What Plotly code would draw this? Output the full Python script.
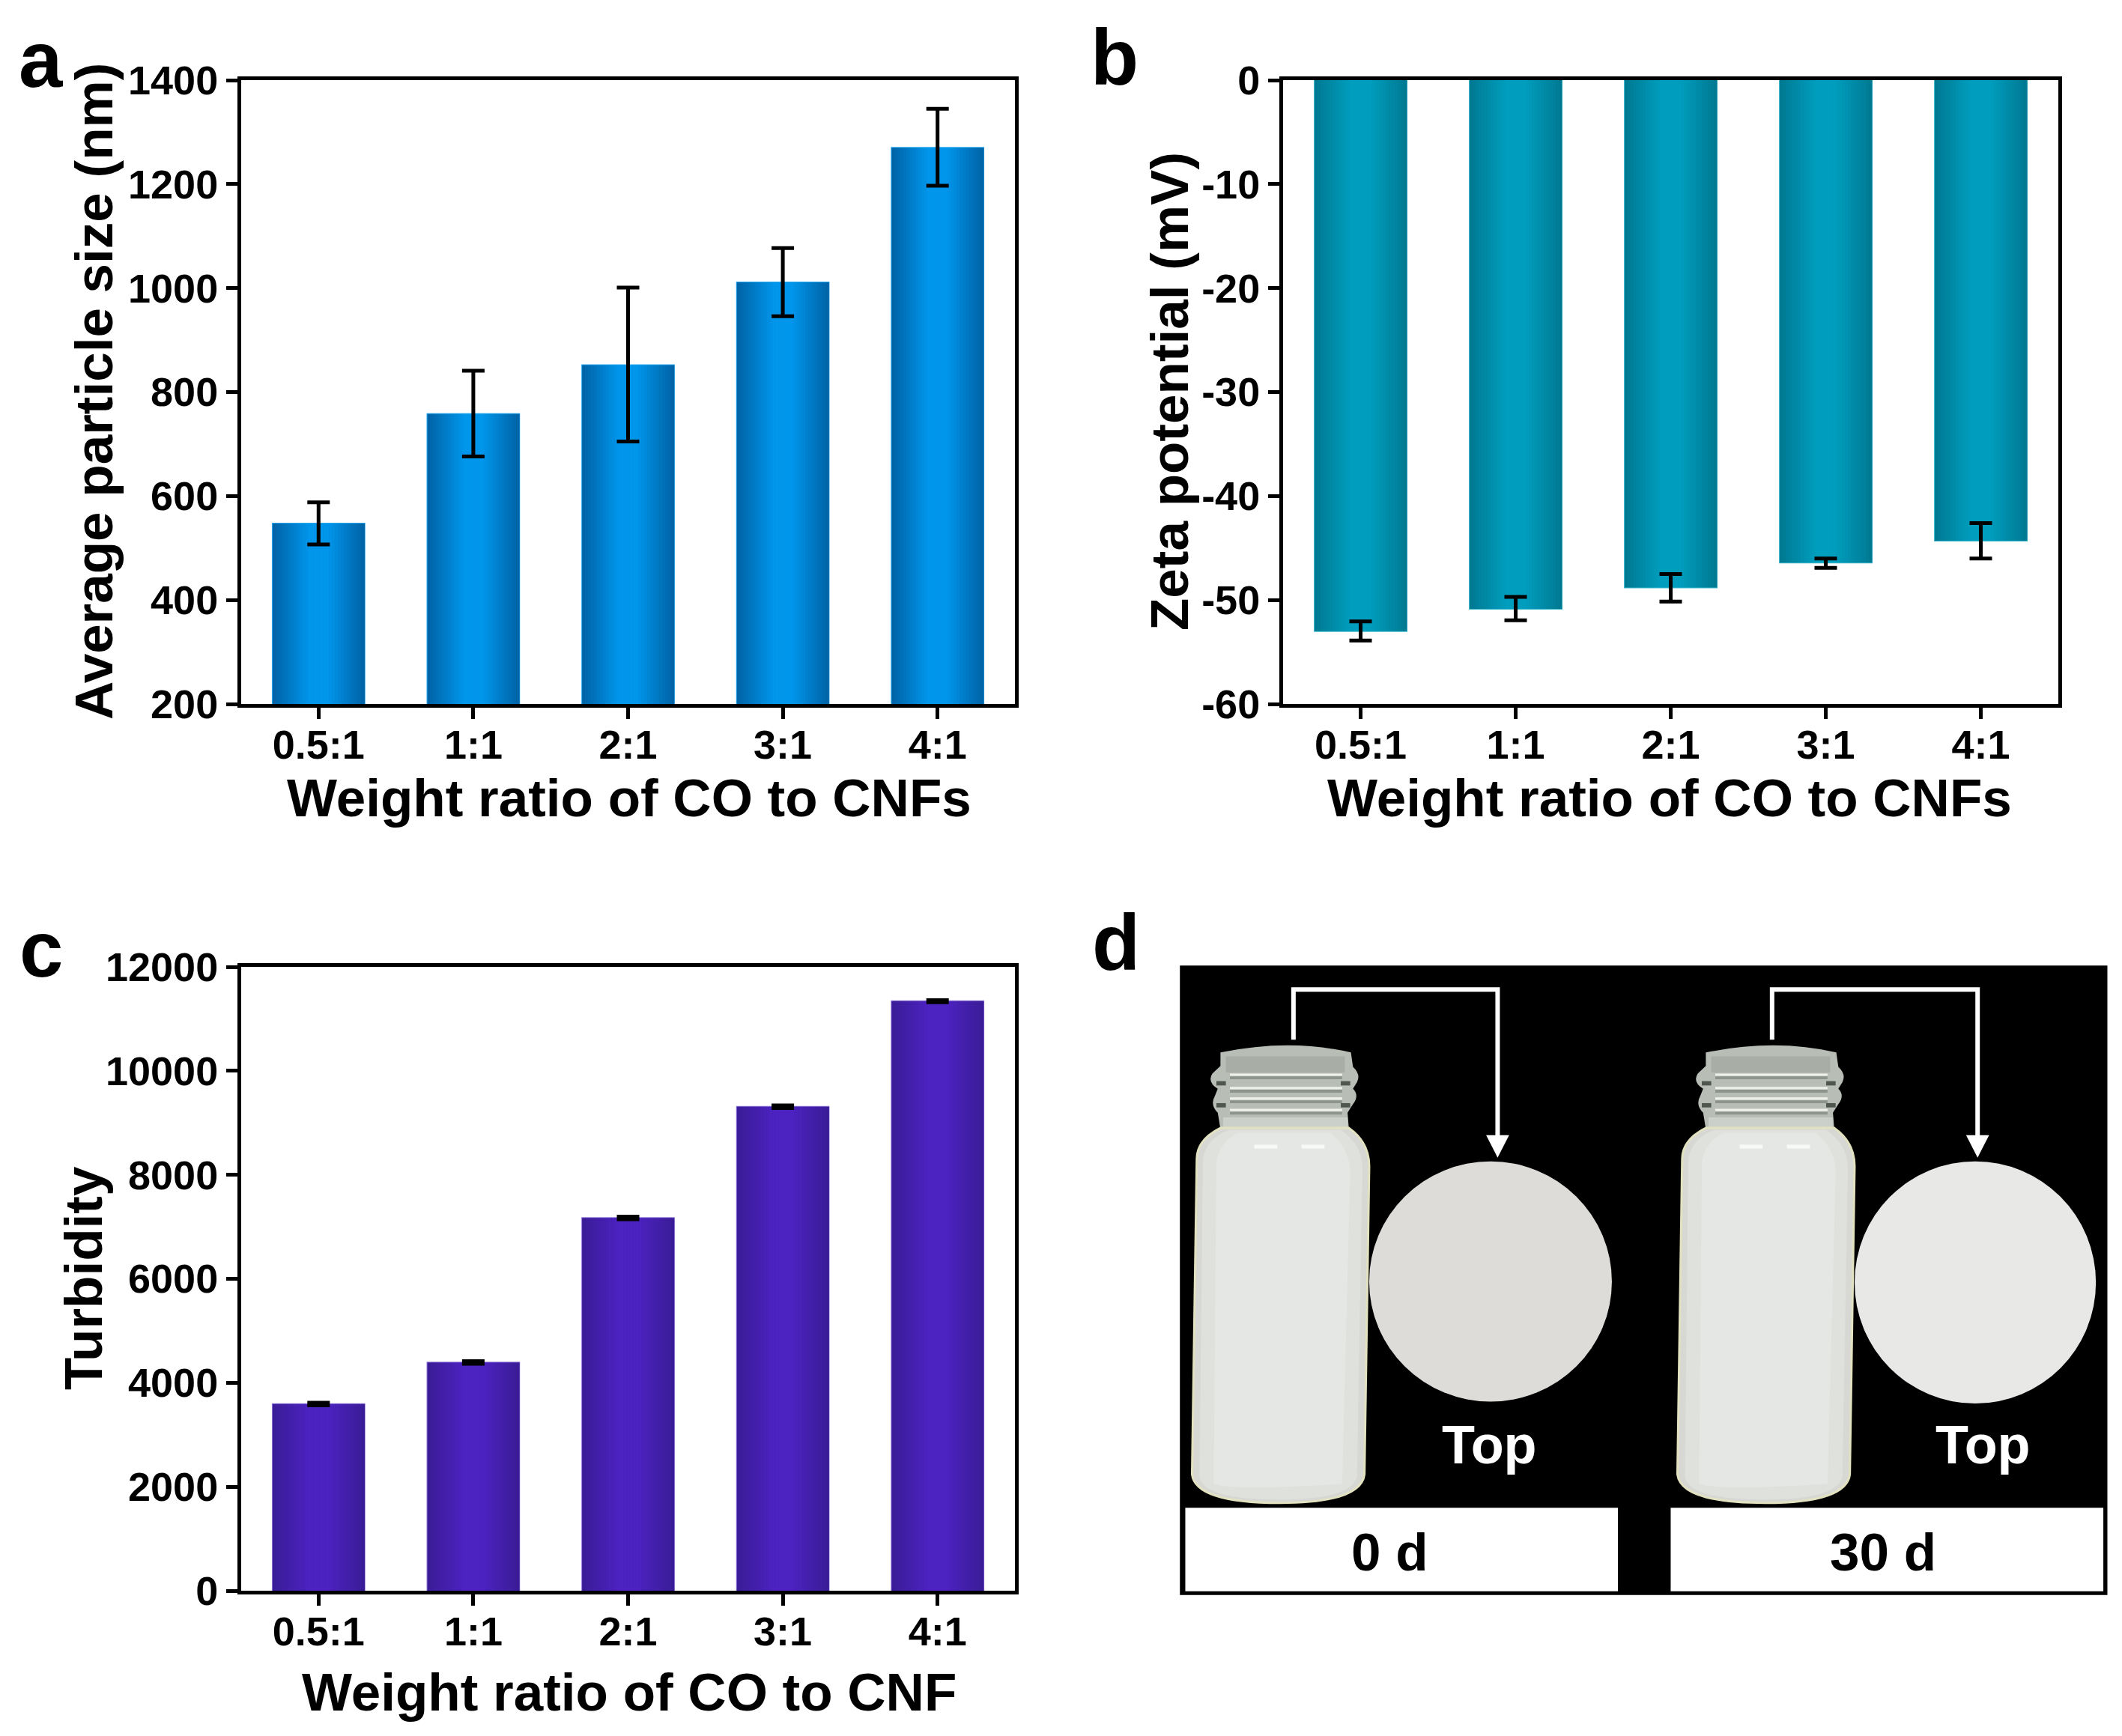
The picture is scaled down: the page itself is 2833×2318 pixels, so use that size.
"""Four panel figure: particle size, zeta potential, turbidity and storage photo sketch."""

import plotly.graph_objects as go

W, H = 2833, 2318
FONT = "Liberation Sans"

ratios = ["0.5:1", "1:1", "2:1", "3:1", "4:1"]

size_values = [547, 758, 852, 1011, 1270]
size_err_up = [41, 83, 149, 66, 75]
size_err_down = [40, 82, 147, 65, 73]
size_ticks = [200, 400, 600, 800, 1000, 1200, 1400]

zeta_values = [-53.0, -50.85, -48.8, -46.4, -44.3]
zeta_err_up = [0.95, 1.15, 1.3, 0.4, 1.7]
zeta_err_down = [0.9, 1.1, 1.35, 0.5, 1.7]
zeta_ticks = [0, -10, -20, -30, -40, -50, -60]

turbidity_values = [3590, 4390, 7170, 9310, 11340]
turbidity_err = [25, 25, 25, 25, 20]
turbidity_ticks = [0, 2000, 4000, 6000, 8000, 10000, 12000]


def mix(c1, c2, t):
    return "rgb(%d,%d,%d)" % tuple(round(a + (b - a) * t) for a, b in zip(c1, c2))


def bars(fig, xa, ya, values, up, down, edge, center, outline):
    # plotly bars have no gradient fill, so each bar is a row of thin strips
    total = 0.594
    strips = 31
    step = total / strips
    fig.add_trace(go.Bar(x=ratios, y=values, width=total, xaxis=xa, yaxis=ya,
                         marker=dict(color=mix(edge, center, 0.5), line=dict(color=outline, width=2))))
    for i in range(strips):
        t = 1 - abs(i + 0.5 - strips / 2) / (strips / 2)
        t = min(1, t * 1.25)
        fig.add_trace(go.Bar(x=ratios, y=values, width=step * 1.1, offset=-total / 2 + i * step,
                             xaxis=xa, yaxis=ya, marker=dict(color=mix(edge, center, t), line=dict(width=0))))
    fig.add_trace(go.Bar(x=ratios, y=values, width=total, xaxis=xa, yaxis=ya,
                         marker=dict(color="rgba(0,0,0,0)", line=dict(width=0)),
                         error_y=dict(type="data", symmetric=False, array=up, arrayminus=down,
                                      color="black", thickness=5, width=15)))


def axes(fig, n, box, yrange, yticks):
    left, right, top, bottom = box
    tick = dict(family=FONT, size=54, color="black", weight=700)
    fig.update_layout({
        "xaxis" + n: dict(domain=[left / W, right / W], anchor="y" + n, type="category", range=[-0.5, 4.5],
                          showline=True, mirror=True, linecolor="black", linewidth=5, showgrid=False,
                          ticks="outside", ticklen=15, tickwidth=5, tickcolor="black", tickfont=tick,
                          ticklabelstandoff=-12),
        "yaxis" + n: dict(domain=[1 - bottom / H, 1 - top / H], anchor="x" + n, range=yrange,
                          tickvals=yticks, ticktext=[str(v) for v in yticks],
                          showline=True, mirror=True, linecolor="black", linewidth=5,
                          showgrid=False, zeroline=False, ticks="outside", ticklen=15, tickwidth=5,
                          tickcolor="black", tickfont=tick),
    })


# panel d is a photo in the original, rebuilt here from shapes in picture pixels
def px(x, y):
    return (1420 + x / 1.108) / W, 1 - (1200 + y / 1.568) / H


def path(points, dx=0, close=True):
    out = []
    for p in points:
        if len(p) == 2:
            a = px(p[0] + dx, p[1])
            out.append("L %.5f %.5f" % a)
        else:
            a = px(p[0] + dx, p[1])
            b = px(p[2] + dx, p[3])
            out.append("Q %.5f %.5f %.5f %.5f" % (a + b))
    out[0] = "M" + out[0][1:]
    return " ".join(out) + (" Z" if close else "")


def shape(d, fill=None, line=None, width=0):
    return dict(type="path", xref="paper", yref="paper", path=d, fillcolor=fill, layer="above",
                line=dict(color=line, width=width))


def rect(x0, y0, x1, y1, fill):
    a, b = px(x0, y0), px(x1, y1)
    return dict(type="rect", xref="paper", yref="paper", x0=a[0], y0=a[1], x1=b[0], y1=b[1],
                fillcolor=fill, line=dict(width=0), layer="above")


def disc(x0, y0, x1, y1, fill):
    a, b = px(x0, y0), px(x1, y1)
    return dict(type="circle", xref="paper", yref="paper", x0=a[0], y0=a[1], x1=b[0], y1=b[1],
                fillcolor=fill, line=dict(width=0), layer="above")


glass = [(232, 322), (335, 292, 425, 322), (428, 352), (440, 368, 434, 384), (428, 398), (438, 412, 428, 430),
         (420, 448), (422, 482), (232, 482), (228, 448), (216, 432, 224, 412), (228, 398), (212, 384, 220, 366),
         (232, 350)]
body = [(232, 480), (422, 480), (452, 510, 452, 560), (445, 1205), (440, 1265, 320, 1265),
        (195, 1265, 190, 1205), (197, 545), (197, 505, 232, 480)]
body_mid = [(245, 484), (410, 484), (442, 515, 442, 565), (434, 1210), (425, 1258, 320, 1258),
            (206, 1258, 201, 1210), (206, 555), (206, 505, 245, 484)]
body_core = [(258, 490), (395, 490), (424, 525, 424, 575), (412, 1225), (250, 1240, 222, 1225),
             (226, 560), (226, 515, 258, 490)]
shine = [(282, 515), (316, 515), (316, 523), (282, 523)]


def bottle(dx):
    s = [shape(path(glass, dx), "#b8bdb6")]
    s.append(rect(240 + dx, 330, 416 + dx, 364, "#a8aea6"))
    for y in (366, 394, 416, 440):
        s.append(rect(246 + dx, y, 412 + dx, y + 5, "#eef0ec"))
        s.append(rect(246 + dx, y + 6, 412 + dx, y + 12, "#8d948c"))
    for x in (226, 410):
        for y in (382, 428):
            s.append(rect(x + dx, y, x + 14 + dx, y + 9, "#4f564f"))
    s.append(rect(236 + dx, 458, 420 + dx, 482, "#ccd0cb"))
    s.append(shape(path(body, dx), "#d7d8d3", "#e3e2c0", 3))
    s.append(shape(path(body_mid, dx), "#dfe1dd"))
    s.append(shape(path(body_core, dx), "#e5e7e4"))
    s.append(shape(path(shine, dx), "#f8f9f7"))
    s.append(shape(path(shine, dx + 70), "#f8f9f7"))
    return s


def arrow(x0, x1, y0=295, y1=190, tip=505):
    s = [shape(path([(x0, y0), (x0, y1), (x1, y1), (x1, tip)], close=False), None, "white", 6)]
    s.append(shape(path([(x1 - 17, 495), (x1 + 17, 495), (x1, 542)]), "white"))
    return s


fig = go.Figure()

bars(fig, "x", "y", size_values, size_err_up, size_err_down, (0, 98, 165), (0, 150, 235), "#2aa9ee")
bars(fig, "x2", "y2", zeta_values, zeta_err_up, zeta_err_down, (0, 120, 145), (0, 158, 190), "#3fb9cf")
bars(fig, "x3", "y3", turbidity_values, turbidity_err, turbidity_err, (58, 28, 150), (76, 34, 192), "#8f78d8")

axes(fig, "", (322, 1355, 107, 940), [200, 1400], size_ticks)
axes(fig, "2", (1713, 2748, 107, 940), [-60, 0], zeta_ticks)
axes(fig, "3", (322, 1355, 1291, 2124), [0, 12000], turbidity_ticks)

shapes = [rect(172, 140, 1544, 1458, "black")]
shapes += [rect(180, 1275, 820, 1450, "white"), rect(898, 1275, 1538, 1450, "white")]
shapes += bottle(0) + bottle(718)
shapes += [disc(452, 550, 811, 1053, "#dddcd8"), disc(1170, 550, 1527, 1057, "#e8e9e7")]
shapes += arrow(340, 642) + arrow(1048, 1352)
fig.update_layout(shapes=shapes)


def label(text, x, y, size, color="black", angle=0):
    fig.add_annotation(text=text, x=x / W, y=1 - y / H, xref="paper", yref="paper", showarrow=False,
                       xanchor="center", yanchor="middle", textangle=angle,
                       font=dict(family=FONT, size=size, color=color, weight=700))


label("a", 55, 80, 105)
label("b", 1488, 77, 105)
label("c", 55, 1267, 105)
label("d", 1490, 1258, 105)

label("Average particle size (nm)", 125, 523, 71, angle=-90)
label("Zeta potential (mV)", 1561, 523, 71, angle=-90)
label("Turbidity", 111, 1707, 71, angle=-90)
label("Weight ratio of CO to CNFs", 840, 1066, 71)
label("Weight ratio of CO to CNFs", 2229, 1066, 71)
label("Weight ratio of CO to CNF", 840, 2259, 71)

for text, zx, zy, size, color in [("Top", 630, 1143, 72, "white"), ("Top", 1360, 1143, 72, "white"),
                                  ("0 d", 483, 1368, 71, "black"), ("30 d", 1212, 1368, 71, "black")]:
    a = px(zx, zy)
    label(text, a[0] * W, (1 - a[1]) * H, size, color)

fig.update_layout(width=W, height=H, margin=dict(l=0, r=0, t=0, b=0, autoexpand=False), barmode="overlay",
                  showlegend=False, paper_bgcolor="white", plot_bgcolor="white", bargap=0.4)

fig.write_html("out.html", config=dict(displayModeBar=False), post_script="document.body.style.margin='0';")
